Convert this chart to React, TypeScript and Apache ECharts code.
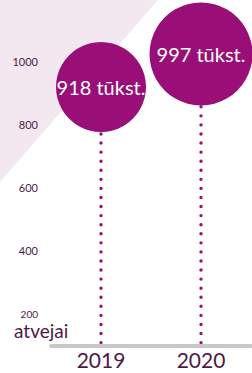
import React, { useEffect, useRef } from "react";
import * as echarts from "echarts";

const categories = ["2019", "2020"];
const values = [918, 997];
const yTicks = [200, 400, 600, 800, 1000];
const unitLabel = "tūkst.";
const axisName = "atvejai";

const PURPLE = "#990f77";
const TEXT = "#4e1a45";
const FONT = "Lato, sans-serif";

export default function App() {
  const ref = useRef<HTMLDivElement>(null);
  useEffect(() => {
    const chart = echarts.init(ref.current!, null, { renderer: "svg" });
    chart.setOption({
      animation: false,
      backgroundColor: "#ffffff",
      grid: { left: 51, right: 1, top: 29.4, bottom: 27.4, containLabel: false },
      graphic: [
        {
          type: "polygon",
          z: -10,
          silent: true,
          shape: { points: [[0, 0], [158, 0], [0, 182]] },
          style: { fill: "#f4e8f0" },
        },
        {
          type: "text",
          left: 14,
          top: 321,
          style: {
            text: axisName,
            fontSize: 19,
            lineHeight: 15,
            fontFamily: FONT,
            fill: TEXT,
          },
        },
      ],
      xAxis: {
        type: "category",
        data: categories,
        axisLine: { lineStyle: { color: "#c8c8c8", width: 4 } },
        axisTick: { show: false },
        axisLabel: {
          fontSize: 21,
          lineHeight: 17,
          fontFamily: FONT,
          color: TEXT,
          margin: 5,
        },
      },
      yAxis: {
        type: "value",
        min: 100,
        max: 1100,
        interval: 100,
        splitLine: { show: false },
        axisLine: { show: false },
        axisTick: { show: false },
        axisLabel: {
          margin: 13,
          fontFamily: FONT,
          color: TEXT,
          fontSize: 11,
          lineHeight: 10,
          formatter: (v: number) =>
            yTicks.includes(v) ? (v === yTicks[0] ? "{s|" + v + "}" : String(v)) : "",
          rich: { s: { fontSize: 10, lineHeight: 9, color: TEXT, fontFamily: FONT } },
        },
      },
      series: [
        {
          type: "custom",
          z: 1,
          data: categories.map((c, i) => [i, values[i]]),
          renderItem: (params: any, api: any) => {
            const top = api.coord([api.value(0), api.value(1)]);
            const base = api.coord([api.value(0), 100]);
            return {
              type: "line",
              shape: { x1: base[0], y1: base[1] - 3, x2: top[0], y2: top[1] },
              style: {
                stroke: PURPLE,
                lineWidth: 3.4,
                lineDash: [0, 9.07],
                lineCap: "round",
              },
            };
          },
        },
        {
          type: "scatter",
          z: 5,
          data: [
            { value: [0, values[0]], symbolSize: 90 },
            { value: [1, values[1]], symbolSize: 103, symbolOffset: [0, -8] },
          ],
          itemStyle: { color: PURPLE, opacity: 1 },
          label: {
            show: true,
            position: "inside",
            color: "#ffffff",
            fontSize: 20,
            fontFamily: FONT,
            formatter: (p: any) => p.value[1] + " " + unitLabel,
          },
        },
      ],
    });
    return () => chart.dispose();
  }, []);
  return (
    <div
      ref={ref}
      style={{ position: "fixed", left: 0, top: 0, width: 252, height: 373 }}
    />
  );
}
